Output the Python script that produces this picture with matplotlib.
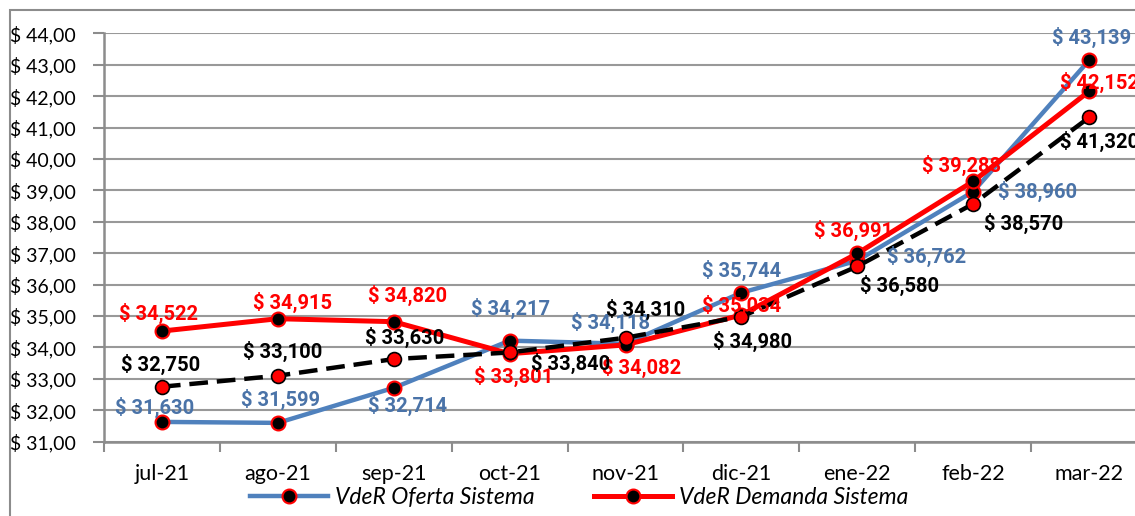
import matplotlib
matplotlib.use("Agg")
import matplotlib.pyplot as plt
from matplotlib.patches import Rectangle

plt.rcParams['font.family'] = ['Lato', 'DejaVu Sans']

meses = ['jul-21', 'ago-21', 'sep-21', 'oct-21', 'nov-21', 'dic-21', 'ene-22', 'feb-22', 'mar-22']
oferta = [31.630, 31.599, 32.714, 34.217, 34.118, 35.744, 36.762, 38.960, 43.139]
demanda = [34.522, 34.915, 34.820, 33.801, 34.082, 35.034, 36.991, 39.288, 42.152]
otra = [32.750, 33.100, 33.630, 33.840, 34.310, 34.980, 36.580, 38.570, 41.320]

# label offsets in pixels (dx, dy) -- dy positive = up
off_oferta = [(-7, 14), (3, 23), (14, -18), (1, 32), (-15, 21), (0, 22), (69, 4), (64, 0), (3, 23)]
off_demanda = [(-3, 18), (15, 16), (14, 26), (4, -23), (16, -23), (0, 10), (-4, 23), (-12, 16), (10, 9)]
off_otra = [(-1, 22), (5, 24), (11, 22), (61, -11), (20, 28), (11, -25), (42, -19), (50, -20), (11, -24)]

fig = plt.figure(figsize=(11.35, 5.16), dpi=100)
ax = fig.add_axes([104 / 1135, 1 - 441.7 / 516, (1147 - 104) / 1135, (441.7 - 33.3) / 516])

x = list(range(len(meses)))
azul = '#4F81BD'
rojo = '#FF0000'

ax.plot(x, oferta, color=azul, lw=3.2, marker='o', ms=10, mfc='black', mec=rojo, mew=1.5,
        label='VdeR Oferta Sistema', zorder=3)
ax.plot(x, demanda, color=rojo, lw=3.6, marker='o', ms=10, mfc='black', mec=rojo, mew=1.5,
        label='VdeR Demanda Sistema', zorder=4)
ax.plot(x, otra, color='black', lw=3.2, ls=(0, (4.2, 2)), marker='o', ms=10, mfc=rojo, mec='black',
        mew=1.2, zorder=5)

def etiquetas(vals, offs, color):
    for i, (v, (dx, dy)) in enumerate(zip(vals, offs)):
        txt = '$ ' + f'{v:.3f}'.replace('.', ',')
        ax.annotate(txt, (i, v), xytext=(dx, dy), textcoords='offset pixels',
                    ha='center', va='center', color=color, fontsize=14.5,
                    family=['Roboto', 'DejaVu Sans'], fontweight='bold',
                    zorder=6, annotation_clip=False)

etiquetas(oferta, off_oferta, '#4A73A8')
etiquetas(demanda, off_demanda, rojo)
etiquetas(otra, off_otra, 'black')

ax.set_xlim(-0.5, 8.5)
ax.set_ylim(31, 44)
ax.set_yticks(range(31, 45))
ax.set_yticklabels([f'$ {v},00' for v in range(31, 45)], fontsize=14)
ax.set_xticks(x)
ax.set_xticklabels(meses, fontsize=15.5)
ax.set_xticks([i - 0.5 for i in range(10)], minor=True)
ax.tick_params(axis='x', which='major', length=0, pad=16)
ax.tick_params(axis='x', which='minor', length=7, width=1.5, color='#8C8C8C')
ax.tick_params(axis='y', length=8, width=1.5, color='#8C8C8C', pad=12)

ax.grid(axis='y', color='#999999', lw=1.5, zorder=0)
for s in ['top', 'right']:
    ax.spines[s].set_visible(False)
for s in ['left', 'bottom']:
    ax.spines[s].set_color('#8C8C8C')
    ax.spines[s].set_linewidth(1.8)

fig.patches.append(Rectangle((10 / 1135, -0.1), 1.2, 1.1 - 10 / 516, transform=fig.transFigure,
                             fill=False, edgecolor='#8C8C8C', lw=1.5))

fig.legend(loc='center', bbox_to_anchor=(0.51, 0.036), ncol=2, frameon=False,
           prop={'style': 'italic', 'size': 16.5}, handlelength=3.4, columnspacing=2.6,
           handletextpad=0.3)

fig.savefig('out.png', dpi=100)
